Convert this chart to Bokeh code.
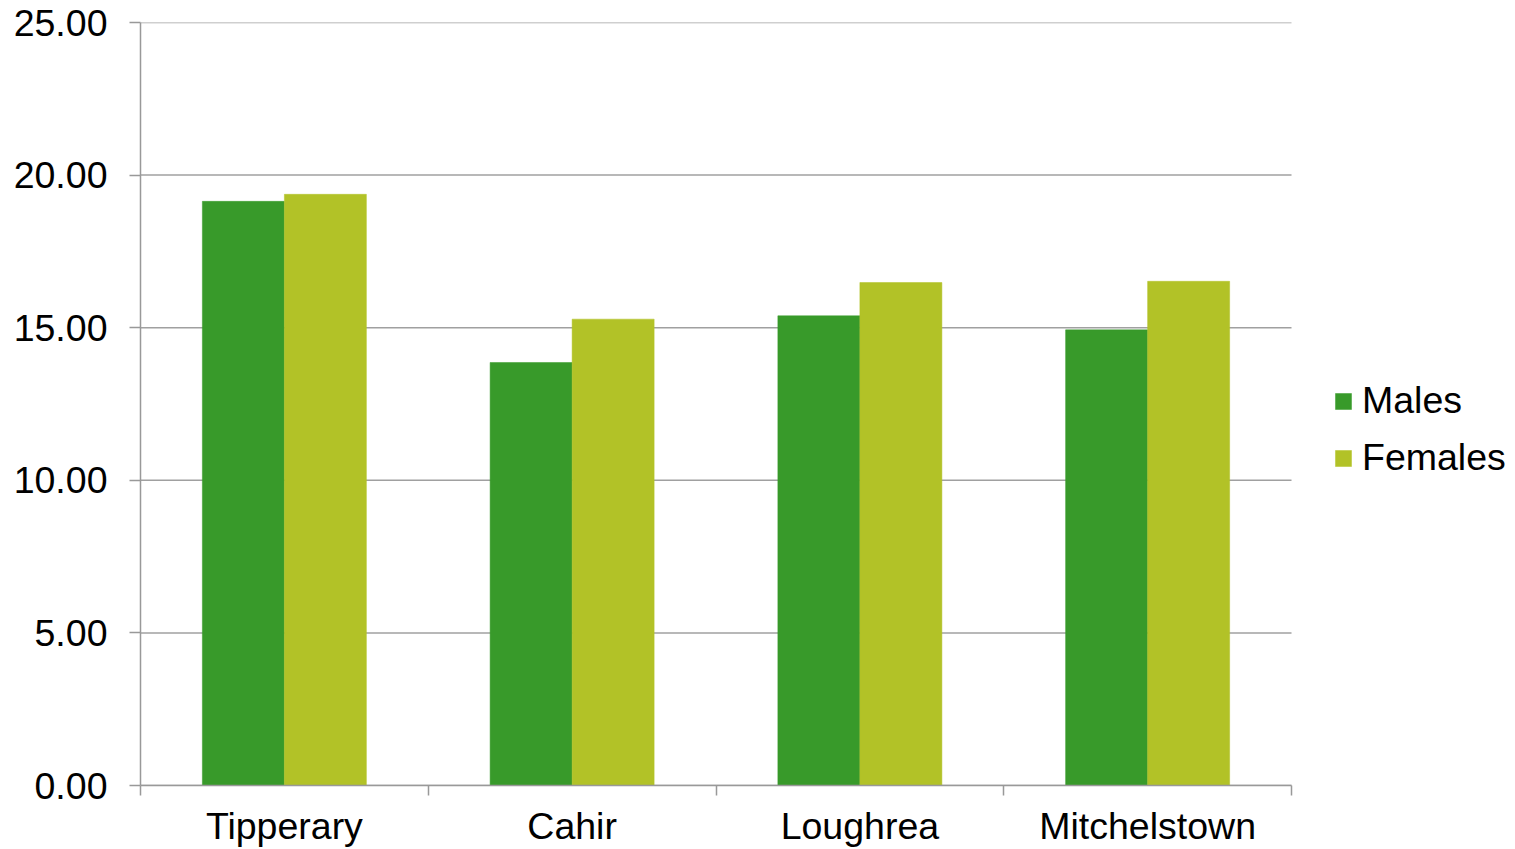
from bokeh.plotting import figure
from bokeh.models import ColumnDataSource, FixedTicker, Legend, LegendItem, Range1d, NumeralTickFormatter
from bokeh.embed import file_html
from bokeh.resources import INLINE

categories = ["Tipperary", "Cahir", "Loughrea", "Mitchelstown"]
males = [19.14, 13.86, 15.39, 14.93]
females = [19.37, 15.28, 16.48, 16.52]
y_ticks = [0, 5, 10, 15, 20, 25]

MALE_COLOR = "#389A2A"
FEMALE_COLOR = "#B2C227"
GRID_COLOR = "#A0A0A0"
AXIS_COLOR = "#999999"
FONT = "Liberation Sans"
FS = "37.5px"
BAR_W = 0.285

n = len(categories)
centers = [i + 0.5 for i in range(n)]
src = ColumnDataSource(dict(
    xm=[c - BAR_W / 2 for c in centers],
    xf=[c + BAR_W / 2 for c in centers],
    males=males,
    females=females,
))

# frame extends to the right edge so the legend can sit inside it; the plot
# area proper (axis line, grid lines) is bounded to the 4 categories
p = figure(width=1515, height=849, output_backend="svg", toolbar_location=None,
           x_range=Range1d(0, n * 1375 / 1151), y_range=Range1d(0, 25),
           min_border_left=140, min_border_right=0, min_border_top=22, min_border_bottom=64)
p.outline_line_color = None
p.background_fill_color = "white"
p.border_fill_color = "white"

# horizontal grid lines limited to the category extent
p.ygrid.grid_line_color = None
p.xgrid.grid_line_color = None
p.segment(x0=[0] * len(y_ticks), x1=[n] * len(y_ticks), y0=y_ticks, y1=y_ticks,
          line_color=GRID_COLOR, line_width=1.5, level="underlay")

rm = p.vbar(x="xm", top="males", width=BAR_W, bottom=0, source=src,
            fill_color=MALE_COLOR, line_color=MALE_COLOR, line_width=0.5)
rf = p.vbar(x="xf", top="females", width=BAR_W, bottom=0, source=src,
            fill_color=FEMALE_COLOR, line_color=FEMALE_COLOR, line_width=0.5)

# x axis
p.xaxis.bounds = (0, n)
p.xaxis.ticker = FixedTicker(ticks=centers, minor_ticks=list(range(n + 1)))
p.xaxis.major_label_overrides = {c: name for c, name in zip(centers, categories)}
p.xaxis.major_tick_out = 0
p.xaxis.major_tick_in = 0
p.xaxis.minor_tick_out = 10
p.xaxis.minor_tick_in = 0
p.xaxis.minor_tick_line_color = AXIS_COLOR
p.xaxis.minor_tick_line_width = 1.5
p.xaxis.axis_line_color = AXIS_COLOR
p.xaxis.axis_line_width = 1.5
p.xaxis.major_label_text_font = FONT
p.xaxis.major_label_text_font_size = FS
p.xaxis.major_label_text_color = "black"
p.xaxis.major_label_standoff = 9

# y axis
p.yaxis.ticker = FixedTicker(ticks=y_ticks, minor_ticks=[])
p.yaxis.formatter = NumeralTickFormatter(format="0.00")
p.yaxis.major_tick_out = 11
p.yaxis.major_tick_in = 0
p.yaxis.major_tick_line_color = AXIS_COLOR
p.yaxis.major_tick_line_width = 1.5
p.yaxis.axis_line_color = AXIS_COLOR
p.yaxis.axis_line_width = 1.5
p.yaxis.major_label_text_font = FONT
p.yaxis.major_label_text_font_size = FS
p.yaxis.major_label_text_color = "black"
p.yaxis.major_label_standoff = 22

legend = Legend(items=[LegendItem(label="Males", renderers=[rm]),
                       LegendItem(label="Females", renderers=[rf])],
                location=(1193, 306))
legend.glyph_width = 20
legend.glyph_height = 20
legend.label_standoff = 9
legend.spacing = 14
legend.padding = 0
legend.margin = 0
legend.border_line_color = None
legend.background_fill_alpha = 0
legend.label_text_font = FONT
legend.label_text_font_size = FS
legend.label_text_color = "black"
p.add_layout(legend, "center")

open("out.html", "w").write(file_html(p, INLINE))
